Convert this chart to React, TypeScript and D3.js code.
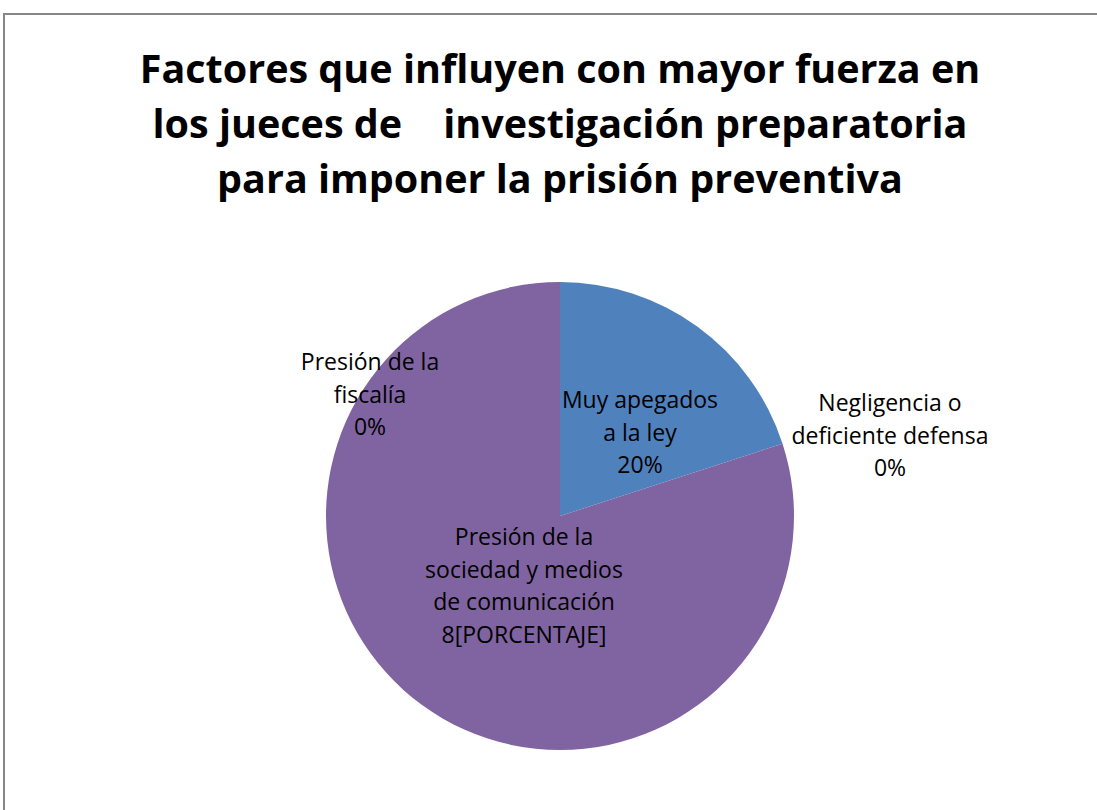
import React from "react";
import * as d3 from "d3";

const categories = [
  "Muy apegados a la ley",
  "Negligencia o deficiente defensa",
  "Presión de la sociedad y medios de comunicación",
  "Presión de la fiscalía",
];
const values = [20, 0, 80, 0];
const labelLines = [
  ["Muy apegados", "a la ley", "20%"],
  ["Negligencia o", "deficiente defensa", "0%"],
  ["Presión de la", "sociedad y medios", "de comunicación", "8[PORCENTAJE]"],
  ["Presión de la", "fiscalía", "0%"],
];
const titleLines = [
  "Factores que influyen con mayor fuerza en",
  "los jueces de    investigación preparatoria",
  "para imponer la prisión preventiva",
];
const colors = ["#4F81BD", "#C0504D", "#8064A2", "#9BBB59"];

// label layout (offsets relative to pie centre, in px) for the first line centre
const labelOffsets: [number, number][] = [
  [80, -116],
  [330, -113],
  [-36, 21],
  [-190, -154],
];

export default function App() {
  const W = 1097;
  const H = 810;
  const cx = 560;
  const cy = 516;
  const r = 234;
  const pie = d3.pie<number>().sort(null).value((d) => d)(values);
  const arc = d3.arc<d3.PieArcDatum<number>>().innerRadius(0).outerRadius(r);
  const font = "'Open Sans', sans-serif";
  return (
    <svg
      width={W}
      height={H}
      style={{ position: "absolute", left: 0, top: 0, background: "#fff" }}
    >
      <rect x={4} y={14} width={W} height={H} fill="#fff" stroke="#878787" strokeWidth={2} />
      <g fontFamily={font} fontWeight={700} fontSize={39.5} textAnchor="middle" fill="#000">
        {titleLines.map((t, i) => (
          <text key={i} x={cx} y={83 + i * 55} style={{ whiteSpace: "pre" }}>
            {t}
          </text>
        ))}
      </g>
      <g transform={`translate(${cx},${cy})`}>
        {pie.map((p, i) =>
          p.value > 0 ? (
            <path key={i} d={arc(p) || ""} fill={colors[i]} />
          ) : null
        )}
      </g>
      <g fontFamily={font} fontSize={23} textAnchor="middle" fill="#000">
        {labelLines.map((lines, i) => (
          <text key={i}>
            {lines.map((l, j) => (
              <tspan key={j} x={cx + labelOffsets[i][0]} y={cy + labelOffsets[i][1] + 8 + j * 32.5}>
                {l}
              </tspan>
            ))}
          </text>
        ))}
      </g>
    </svg>
  );
}
